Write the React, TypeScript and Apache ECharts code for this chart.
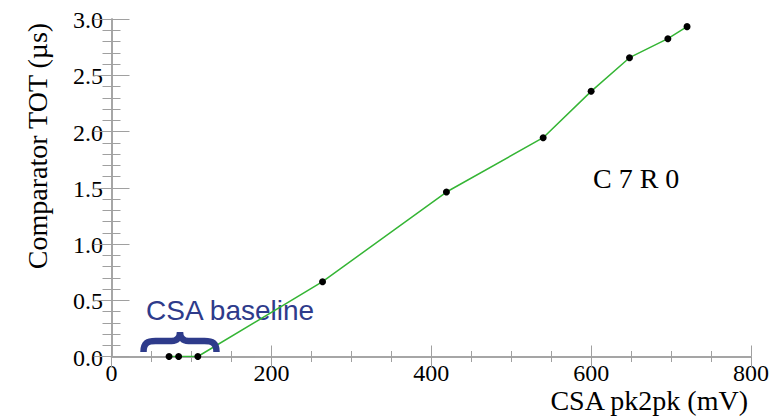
import React, { useEffect, useRef } from "react";
import * as echarts from "echarts";

const pk2pk = [72, 84, 108, 264, 419, 540, 600, 648, 696, 720];
const tot = [0, 0, 0, 0.665, 1.462, 1.945, 2.357, 2.656, 2.825, 2.932];
const xTicks = [0, 200, 400, 600, 800];
const yTicks = [0, 0.5, 1.0, 1.5, 2.0, 2.5, 3.0];
const xTitle = "CSA pk2pk (mV)";
const yTitle = "Comparator TOT (µs)";
const chipLabel = "C 7 R 0";
const baselineLabel = "CSA baseline";

const SERIF = "'Liberation Serif', 'Times New Roman', serif";
const SANS = "'Liberation Sans', Arial, sans-serif";
const FRAME = "#a0a0a0";

let registered = false;
function registerBrace() {
  if (registered) return;
  registered = true;
  const d =
    "M0,21 C0,12 4,10 12,10 L28,10 C34,10 36.5,6 36.5,1 C36.5,6 39,10 45,10 L61,10 C69,10 73,12 73,21";
  echarts.graphic.registerShape("brace", echarts.graphic.extendPath(d, {}) as any);
}

export default function App() {
  const ref = useRef<HTMLDivElement>(null);
  useEffect(() => {
    if (!ref.current) return;
    registerBrace();
    const chart = echarts.init(ref.current, null, { renderer: "svg" });
    const tickStyle = { color: FRAME, width: 1 };
    const xCommon = {
      type: "value",
      min: 0,
      max: 800,
      interval: 200,
      axisLine: { show: true, lineStyle: { color: FRAME, width: 1.5 } },
      axisTick: { show: true, inside: true, length: 11, lineStyle: tickStyle },
      minorTick: { show: true, splitNumber: 4, length: 5.5, lineStyle: tickStyle },
      splitLine: { show: false },
      axisLabel: { show: false },
    };
    const yCommon = {
      type: "value",
      min: 0,
      max: 3,
      interval: 0.5,
      axisLine: { show: true, lineStyle: { color: FRAME, width: 1.5 } },
      axisTick: { show: true, inside: true, length: 18, lineStyle: tickStyle },
      minorTick: { show: true, splitNumber: 5, length: 9, lineStyle: tickStyle },
      splitLine: { show: false },
      axisLabel: { show: false },
    };
    chart.setOption({
      animation: false,
      backgroundColor: "#ffffff",
      grid: { left: 111.5, right: 18, top: 19, bottom: 61.5, containLabel: false },
      xAxis: [
        { ...xCommon, position: "bottom" },
        { ...xCommon, position: "top" },
      ],
      yAxis: [
        { ...yCommon, position: "left" },
        { ...yCommon, position: "right" },
      ],
      series: [
        {
          type: "line",
          data: pk2pk.map((x, i) => [x, tot[i]]),
          symbol: "circle",
          symbolSize: 7,
          itemStyle: { color: "#000" },
          lineStyle: { color: "#35b535", width: 1.5 },
          z: 5,
        },
      ],
    } as any);

    const tickFont = `24px ${SERIF}`;
    const xLabelGraphics = xTicks.map((v) => ({
      type: "text",
      x: chart.convertToPixel({ xAxisIndex: 0 } as any, v) as number,
      y: 373,
      style: {
        text: String(v),
        font: tickFont,
        fill: "#000",
        align: "center",
        verticalAlign: "middle",
      },
    }));
    const yLabelGraphics = yTicks.map((v) => ({
      type: "text",
      x: 103,
      y: (chart.convertToPixel({ yAxisIndex: 0 } as any, v) as number) + 1,
      style: {
        text: v.toFixed(1),
        font: tickFont,
        fill: "#000",
        align: "right",
        verticalAlign: "middle",
      },
    }));

    chart.setOption({
      graphic: [
        ...xLabelGraphics,
        ...yLabelGraphics,
        {
          type: "text",
          x: 748,
          y: 400,
          style: {
            text: xTitle,
            font: `28px ${SERIF}`,
            fill: "#000",
            align: "right",
            verticalAlign: "middle",
          },
        },
        {
          type: "text",
          x: 37,
          y: 146,
          rotation: Math.PI / 2,
          style: {
            text: yTitle,
            font: `28px ${SERIF}`,
            fill: "#000",
            align: "center",
            verticalAlign: "middle",
          },
        },
        {
          type: "text",
          x: 593,
          y: 178.3,
          style: {
            text: chipLabel,
            font: `28px ${SERIF}`,
            fill: "#000",
            align: "left",
            verticalAlign: "middle",
          },
        },
        {
          type: "text",
          x: 146,
          y: 310,
          style: {
            text: baselineLabel,
            font: `28px ${SANS}`,
            fill: "#2e3b8b",
            align: "left",
            verticalAlign: "middle",
          },
        },
        {
          type: "brace",
          x: 143.5,
          y: 331,
          z: 10,
          style: {
            fill: "none",
            stroke: "#2e3b8b",
            lineWidth: 6.5,
          },
        },
      ],
    } as any);
    return () => chart.dispose();
  }, []);
  return <div ref={ref} style={{ width: 769, height: 418, position: "absolute", left: 0, top: 0 }} />;
}
